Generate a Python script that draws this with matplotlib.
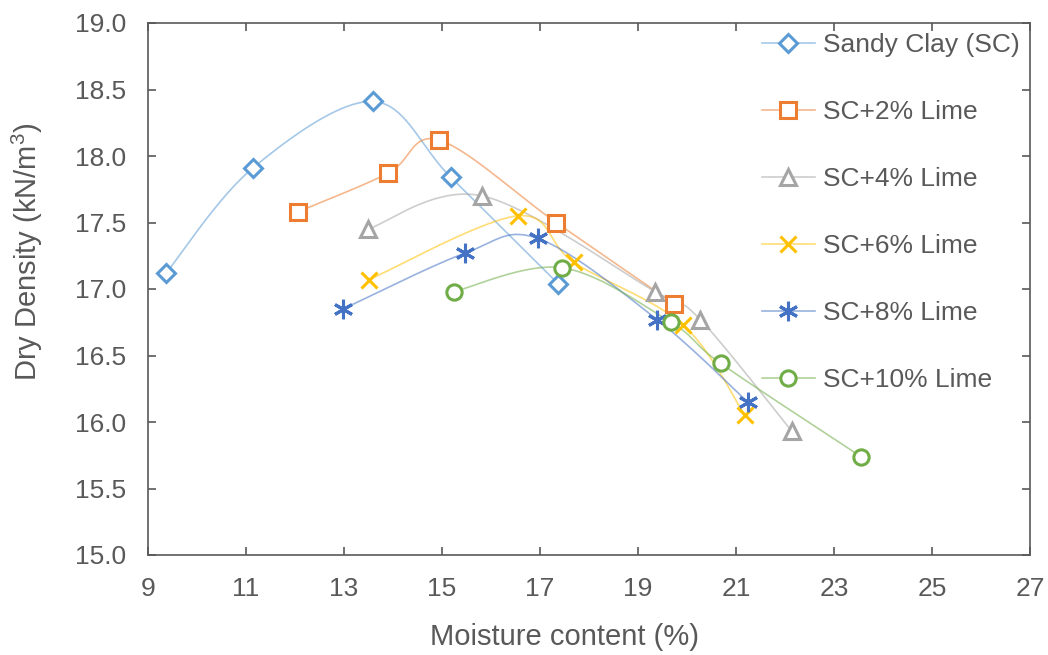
import numpy as np
import matplotlib
matplotlib.use("Agg")
import matplotlib.pyplot as plt

plt.rcParams['font.family'] = ['Liberation Sans', 'DejaVu Sans']
plt.rcParams['mathtext.fontset'] = 'custom'
plt.rcParams['mathtext.rm'] = 'Liberation Sans'

# Compaction curves
sc_x = [9.37, 11.14, 13.59, 15.18, 17.37]
sc_y = [17.12, 17.91, 18.41, 17.84, 17.04]

l2_x = [12.06, 13.90, 14.94, 17.33, 19.73]
l2_y = [17.58, 17.87, 18.12, 17.50, 16.89]

l4_x = [13.49, 15.82, 19.35, 20.27, 22.14]
l4_y = [17.45, 17.70, 16.98, 16.77, 15.93]

l6_x = [13.51, 16.55, 17.69, 19.92, 21.18]
l6_y = [17.07, 17.55, 17.20, 16.73, 16.05]

l8_x = [12.98, 15.47, 16.96, 19.39, 21.24]
l8_y = [16.85, 17.27, 17.38, 16.77, 16.15]

l10_x = [15.24, 17.45, 19.67, 20.69, 23.55]
l10_y = [16.98, 17.16, 16.75, 16.44, 15.74]

labels = ['Sandy Clay (SC)', 'SC+2% Lime', 'SC+4% Lime',
          'SC+6% Lime', 'SC+8% Lime', 'SC+10% Lime']
colors = ['#5B9BD5', '#ED7D31', '#A5A5A5', '#FFC000', '#4472C4', '#70AD47']
markers = ['D', 's', '^', 'x', (6, 2, 0), 'o']
sizes = [9, 11, 11, 11, 14, 11]
hollow = [True, True, True, False, False, True]

xs = [sc_x, l2_x, l4_x, l6_x, l8_x, l10_x]
ys = [sc_y, l2_y, l4_y, l6_y, l8_y, l10_y]


# Excel-like smoothed line (Catmull-Rom through Bezier segments)
def smooth(x, y, n=40):
    p = np.column_stack([x, y]).astype(float)
    p = np.vstack([p[0], p, p[-1]])
    out = []
    t = np.linspace(0, 1, n)[:, None]
    for i in range(1, len(p) - 2):
        p0, p1, p2, p3 = p[i - 1], p[i], p[i + 1], p[i + 2]
        c1 = p1 + (p2 - p0) / 6
        c2 = p2 - (p3 - p1) / 6
        seg = ((1 - t) ** 3) * p1 + 3 * ((1 - t) ** 2) * t * c1 + 3 * (1 - t) * t ** 2 * c2 + t ** 3 * p2
        out.append(seg)
    out = np.vstack(out)
    return out[:, 0], out[:, 1]


fig = plt.figure(figsize=(10.48, 6.55), dpi=100)
ax = fig.add_axes([148 / 1048, 100 / 655, 882 / 1048, 532 / 655])

grey = '#595959'
handles = []
for x, y, lab, c, m, s, h in zip(xs, ys, labels, colors, markers, sizes, hollow):
    sx, sy = smooth(x, y)
    ax.plot(sx, sy, color=c, lw=1.2, alpha=0.55, zorder=2)
    ax.plot(x, y, linestyle='none', marker=m, ms=s, mec=c, mew=2.2,
            mfc='white' if h else c, zorder=3)
    hd, = ax.plot([], [], color=matplotlib.colors.to_rgba(c, 0.55), lw=1.2,
                  marker=m, ms=s, mec=c, mew=2.2, mfc='white' if h else c)
    handles.append(hd)

ax.set_xlim(9, 27)
ax.set_ylim(15, 19)
ax.set_xticks(np.arange(9, 28, 2))
ax.set_yticks(np.arange(15, 19.01, 0.5))
ax.set_yticklabels(['%.1f' % v for v in np.arange(15, 19.01, 0.5)])

for sp in ax.spines.values():
    sp.set_color(grey)
    sp.set_linewidth(1.2)

ax.tick_params(direction='in', top=True, right=True, length=6, width=1.2,
               color=grey, labelcolor=grey, labelsize=19)
ax.tick_params(axis='y', pad=16)
ax.tick_params(axis='x', pad=16)

ax.set_xlabel('Moisture content (%)', fontsize=21, color=grey, labelpad=16)
ax.xaxis.label.set_x(0.4717)
ax.set_ylabel('Dry Density (kN/m$^3$)', fontsize=21, color=grey)
ax.yaxis.set_label_coords(-0.117, 0.57)

leg = ax.legend(handles, labels, loc='upper left', frameon=False,
                bbox_to_anchor=(762 / 1048, 1 - 33 / 655),
                bbox_transform=fig.transFigure, borderpad=0, borderaxespad=0,
                fontsize=19, handlelength=2.0, handletextpad=0.3,
                labelspacing=1.63)
for t in leg.get_texts():
    t.set_color(grey)

fig.savefig('out.png', dpi=100)
